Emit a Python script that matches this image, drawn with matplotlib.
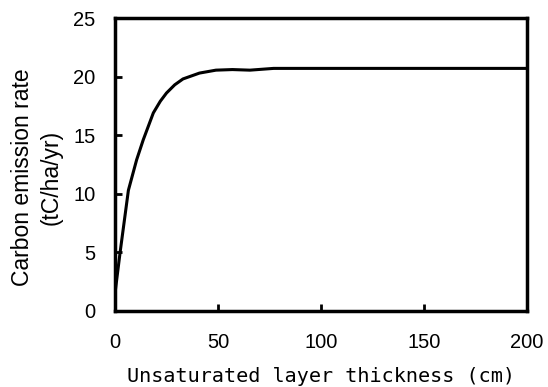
import matplotlib
matplotlib.use("Agg")
import matplotlib.pyplot as plt

thickness_cm = [0, 2.4, 6.5, 10.5, 13.7, 18.6, 22, 25, 29, 33, 41, 49, 57, 65.5, 77, 100, 150, 200]
emission_rate = [1.5, 4.9, 10.3, 12.9, 14.6, 16.9, 17.9, 18.6, 19.3, 19.8, 20.3, 20.55, 20.6, 20.55, 20.7, 20.7, 20.7, 20.7]
xticks = [0, 50, 100, 150, 200]
yticks = [0, 5, 10, 15, 20, 25]

plt.rcParams['font.family'] = ['Liberation Sans', 'DejaVu Sans']

fig = plt.figure(figsize=(5.48, 3.87), dpi=100)
ax = fig.add_axes([115/548, 1 - 311/387, (527-115)/548, (311-18)/387])
ax.plot(thickness_cm, emission_rate, color='black', lw=2.2)
ax.set_xlim(0, 200)
ax.set_ylim(0, 25)
ax.set_xticks(xticks)
ax.set_yticks(yticks)
for s in ax.spines.values():
    s.set_linewidth(2.5)
ax.tick_params(direction='in', length=5, width=2, labelsize=14.5)
ax.tick_params(axis='x', pad=16)
ax.tick_params(axis='y', pad=14)
ax.set_xlabel('Unsaturated layer thickness (cm)', fontsize=14.5,
              family=['DejaVu Sans Mono', 'Liberation Mono'])
ax.xaxis.set_label_coords(0.5, -0.19)
ax.set_ylabel('Carbon emission rate\n(tC/ha/yr)', fontsize=16.5, linespacing=1.3)
ax.yaxis.set_label_coords(-0.128, 0.455)
fig.savefig('out.png', dpi=100)
